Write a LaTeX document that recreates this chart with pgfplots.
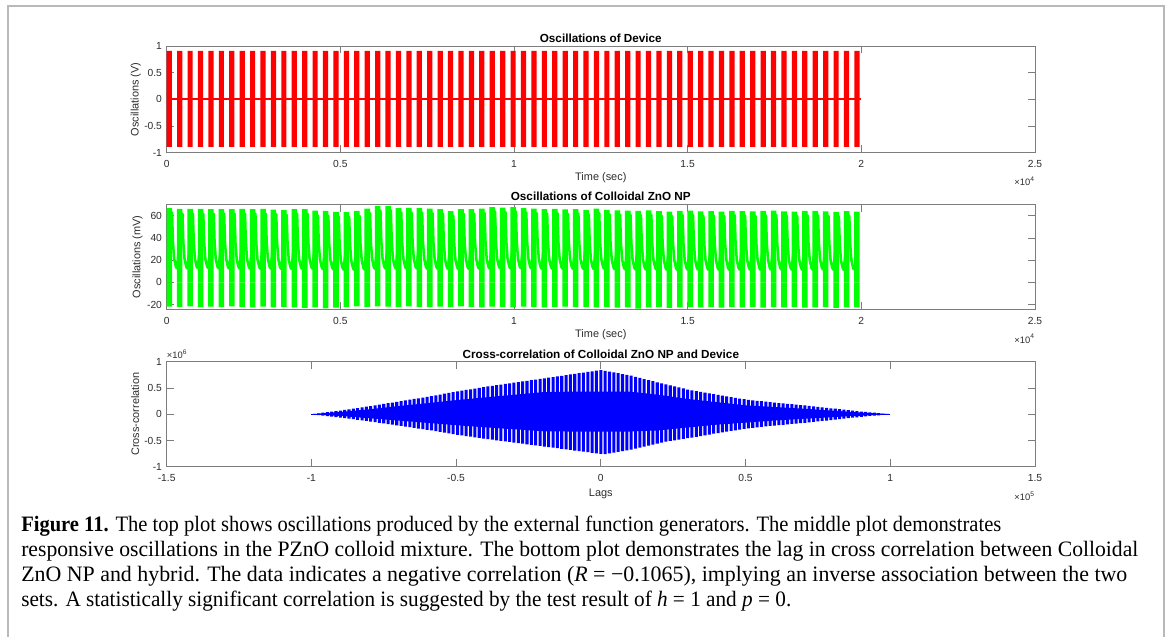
\documentclass[border=0pt]{standalone}
\usepackage{fontspec}
\setmainfont{Liberation Sans}
\newfontfamily\capfont{Liberation Serif}
\usepackage{graphicx}
\usepackage{pgfplots}
\usepackage{pgfplotstable}
\pgfplotsset{compat=1.18}
\definecolor{axgray}{RGB}{125,125,125}
\definecolor{txtgray}{RGB}{45,45,45}
\definecolor{framegray}{RGB}{185,185,185}

\pgfplotsset{matstyle/.style={
  scale only axis, width=651.2pt, anchor=south west,
  axis line style={axgray, line width=0.6pt},
  tick style={axgray, line width=0.6pt},
  tick align=inside, major tick length=5.5pt,
  tick label style={font=\fontsize{7.7}{9}\selectfont, text=txtgray},
  xticklabel style={anchor=base, yshift=-11.1pt},
  label style={font=\fontsize{8.2}{9.8}\selectfont, text=txtgray},
  every axis title shift=0pt,
  title style={font=\bfseries\fontsize{8.8}{10}\selectfont, at={(0.5,1)}, anchor=base, yshift=2.6pt, text=black},
  scaled x ticks=false, scaled y ticks=false,
}}

\pgfplotstableread[row sep=\\]{
t up lo\\
75 0.91 -0.89\\ 375 0.91 -0.89\\ 675 0.91 -0.89\\ 975 0.91 -0.89\\ 1275 0.91 -0.89\\ 1575 0.91 -0.89\\
1875 0.91 -0.89\\ 2175 0.91 -0.89\\ 2475 0.91 -0.89\\ 2775 0.91 -0.89\\ 3075 0.91 -0.89\\ 3375 0.91 -0.89\\
3675 0.91 -0.89\\ 3975 0.91 -0.89\\ 4275 0.91 -0.89\\ 4575 0.91 -0.89\\ 4875 0.91 -0.89\\ 5175 0.91 -0.89\\
5475 0.91 -0.89\\ 5775 0.91 -0.89\\ 6075 0.91 -0.89\\ 6375 0.91 -0.89\\ 6675 0.91 -0.89\\ 6975 0.91 -0.89\\
7275 0.91 -0.89\\ 7575 0.91 -0.89\\ 7875 0.91 -0.89\\ 8175 0.91 -0.89\\ 8475 0.91 -0.89\\ 8775 0.91 -0.89\\
9075 0.91 -0.89\\ 9375 0.91 -0.89\\ 9675 0.91 -0.89\\ 9975 0.91 -0.89\\ 10275 0.91 -0.89\\ 10575 0.91 -0.89\\
10875 0.91 -0.89\\ 11175 0.91 -0.89\\ 11475 0.91 -0.89\\ 11775 0.91 -0.89\\ 12075 0.91 -0.89\\ 12375 0.91 -0.89\\
12675 0.91 -0.89\\ 12975 0.91 -0.89\\ 13275 0.91 -0.89\\ 13575 0.91 -0.89\\ 13875 0.91 -0.89\\ 14175 0.91 -0.89\\
14475 0.91 -0.89\\ 14775 0.91 -0.89\\ 15075 0.91 -0.89\\ 15375 0.91 -0.89\\ 15675 0.91 -0.89\\ 15975 0.91 -0.89\\
16275 0.91 -0.89\\ 16575 0.91 -0.89\\ 16875 0.91 -0.89\\ 17175 0.91 -0.89\\ 17475 0.91 -0.89\\ 17775 0.91 -0.89\\
18075 0.91 -0.89\\ 18375 0.91 -0.89\\ 18675 0.91 -0.89\\ 18975 0.91 -0.89\\ 19275 0.91 -0.89\\ 19575 0.91 -0.89\\
19875 0.91 -0.89\\
}\device

\pgfplotstableread[row sep=\\]{
t top bot\\
75 66.9 -21.8\\ 375 66.3 -22.0\\ 675 66.3 -21.6\\ 975 66.3 -22.2\\ 1275 66.0 -21.9\\ 1575 66.0 -22.3\\
1875 66.0 -21.7\\ 2175 66.3 -22.1\\ 2475 66.0 -22.4\\ 2775 66.3 -21.8\\ 3075 65.7 -22.6\\ 3375 65.4 -22.0\\
3675 66.0 -22.5\\ 3975 66.0 -23.0\\ 4275 64.8 -22.4\\ 4575 64.5 -23.4\\ 4875 63.6 -22.8\\ 5175 63.3 -22.0\\
5475 64.5 -21.7\\ 5775 66.6 -22.0\\ 6075 69.1 -21.5\\ 6375 69.1 -21.8\\ 6675 66.9 -22.1\\ 6975 67.2 -21.6\\
7275 66.9 -22.0\\ 7575 66.6 -22.3\\ 7875 66.0 -21.9\\ 8175 64.2 -22.2\\ 8475 66.0 -21.7\\ 8775 66.0 -22.0\\
9075 66.6 -22.4\\ 9375 67.9 -21.8\\ 9675 67.5 -22.0\\ 9975 67.8 -22.5\\ 10275 67.0 -21.9\\ 10575 66.5 -22.1\\
10875 66.0 -22.6\\ 11175 66.3 -22.0\\ 11475 65.8 -21.8\\ 11775 66.0 -22.3\\ 12075 65.5 -22.0\\ 12375 66.6 -22.5\\
12675 65.4 -22.2\\ 12975 65.0 -22.8\\ 13275 64.8 -22.4\\ 13575 64.5 -23.6\\ 13875 65.0 -22.6\\ 14175 64.2 -22.2\\
14475 63.8 -22.9\\ 14775 64.5 -22.4\\ 15075 64.8 -22.0\\ 15375 64.0 -22.6\\ 15675 64.3 -22.3\\ 15975 63.9 -22.8\\
16275 64.6 -22.2\\ 16575 64.2 -22.5\\ 16875 64.0 -22.0\\ 17175 64.5 -22.7\\ 17475 64.8 -22.3\\ 17775 64.1 -22.6\\
18075 63.8 -22.1\\ 18375 64.4 -22.8\\ 18675 64.6 -22.4\\ 18975 64.0 -22.2\\ 19275 63.5 -23.0\\ 19575 64.2 -22.5\\
19875 63.8 -22.6\\
}\np

\pgfplotstableread[row sep=\\]{
lag up lo\\
-99000 0.007 -0.006\\ -97500 0.018 -0.016\\ -96000 0.028 -0.025\\ -94500 0.039 -0.035\\ -93000 0.049 -0.044\\
-91500 0.060 -0.054\\ -90000 0.070 -0.063\\ -88500 0.082 -0.074\\ -87000 0.094 -0.085\\ -85500 0.106 -0.095\\
-84000 0.118 -0.106\\ -82500 0.130 -0.117\\ -81000 0.142 -0.128\\ -79500 0.155 -0.140\\ -78000 0.168 -0.151\\
-76500 0.182 -0.164\\ -75000 0.195 -0.176\\ -73500 0.209 -0.188\\ -72000 0.222 -0.200\\ -70500 0.236 -0.212\\
-69000 0.249 -0.224\\ -67500 0.263 -0.237\\ -66000 0.276 -0.248\\ -64500 0.290 -0.261\\ -63000 0.303 -0.273\\
-61500 0.317 -0.285\\ -60000 0.330 -0.297\\ -58500 0.345 -0.310\\ -57000 0.360 -0.324\\ -55500 0.375 -0.338\\
-54000 0.390 -0.351\\ -52500 0.405 -0.365\\ -51000 0.420 -0.378\\ -49500 0.435 -0.392\\ -48000 0.448 -0.403\\
-46500 0.462 -0.416\\ -45000 0.475 -0.428\\ -43500 0.489 -0.440\\ -42000 0.502 -0.452\\ -40500 0.516 -0.464\\
-39000 0.528 -0.475\\ -37500 0.540 -0.486\\ -36000 0.552 -0.497\\ -34500 0.564 -0.508\\ -33000 0.576 -0.518\\
-31500 0.588 -0.529\\ -30000 0.600 -0.540\\ -28500 0.612 -0.551\\ -27000 0.624 -0.562\\ -25500 0.636 -0.572\\
-24000 0.648 -0.583\\ -22500 0.660 -0.594\\ -21000 0.672 -0.605\\ -19500 0.684 -0.616\\ -18000 0.696 -0.626\\
-16500 0.708 -0.637\\ -15000 0.720 -0.648\\ -13500 0.732 -0.659\\ -12000 0.744 -0.670\\ -10500 0.756 -0.680\\
-9000 0.768 -0.691\\ -7500 0.780 -0.702\\ -6000 0.792 -0.713\\ -4500 0.804 -0.724\\ -3000 0.816 -0.734\\
-1500 0.828 -0.745\\ 0 0.840 -0.756\\ 1500 0.825 -0.759\\ 3000 0.810 -0.745\\ 4500 0.795 -0.731\\
6000 0.780 -0.718\\ 7500 0.765 -0.704\\ 9000 0.750 -0.690\\ 10500 0.733 -0.674\\ 12000 0.712 -0.655\\
13500 0.691 -0.636\\ 15000 0.670 -0.616\\ 16500 0.649 -0.597\\ 18000 0.628 -0.578\\ 19500 0.607 -0.558\\
21000 0.587 -0.540\\ 22500 0.568 -0.523\\ 24000 0.548 -0.510\\ 25500 0.529 -0.497\\ 27000 0.509 -0.484\\
28500 0.490 -0.470\\ 30000 0.470 -0.456\\ 31500 0.455 -0.446\\ 33000 0.440 -0.431\\ 34500 0.425 -0.417\\
36000 0.410 -0.402\\ 37500 0.395 -0.387\\ 39000 0.380 -0.372\\ 40500 0.366 -0.359\\ 42000 0.352 -0.345\\
43500 0.339 -0.332\\ 45000 0.325 -0.319\\ 46500 0.312 -0.306\\ 48000 0.298 -0.292\\ 49500 0.285 -0.279\\
51000 0.274 -0.269\\ 52500 0.265 -0.260\\ 54000 0.256 -0.251\\ 55500 0.247 -0.242\\ 57000 0.238 -0.233\\
58500 0.229 -0.224\\ 60000 0.220 -0.216\\ 61500 0.213 -0.209\\ 63000 0.205 -0.201\\ 64500 0.198 -0.194\\
66000 0.190 -0.186\\ 67500 0.183 -0.179\\ 69000 0.175 -0.172\\ 70500 0.167 -0.164\\ 72000 0.158 -0.155\\
73500 0.149 -0.146\\ 75000 0.140 -0.137\\ 76500 0.131 -0.128\\ 78000 0.122 -0.120\\ 79500 0.113 -0.111\\
81000 0.104 -0.102\\ 82500 0.095 -0.093\\ 84000 0.086 -0.084\\ 85500 0.077 -0.075\\ 87000 0.068 -0.067\\
88500 0.059 -0.058\\ 90000 0.050 -0.049\\ 91500 0.043 -0.042\\ 93000 0.035 -0.034\\ 94500 0.028 -0.027\\
96000 0.020 -0.020\\ 97500 0.013 -0.013\\ 99000 0.005 -0.005\\
}\xc

\begin{document}
\begin{tikzpicture}
\useasboundingbox (0,0) rectangle (877.5pt,477.75pt);
\fill[white] (0,0) rectangle (877.5pt,477.75pt);

% ---------- top: device ----------
\begin{axis}[matstyle, name=top, at={(125pt,363.2pt)}, height=80pt,
  xmin=0, xmax=25000, ymin=-1, ymax=1,
  xtick={0,5000,10000,15000,20000,25000}, xticklabels={0,0.5,1,1.5,2,2.5},
  ytick={-1,-0.5,0,0.5,1}, yticklabels={-1,-0.5,0,0.5,1},
  title={Oscillations of Device},
  xlabel={Time (sec)}, ylabel={Oscillations (V)},
  xlabel style={at={(axis description cs:0.5,0)}, anchor=base, yshift=-21pt},
  ylabel style={at={(axis description cs:0,0.5)}, anchor=center, yshift=23.2pt}]
\addplot[ybar, bar width=150, bar shift=0, fill=red, draw=none] table[x=t,y=up]{\device};
\addplot[ybar, bar width=150, bar shift=0, fill=red, draw=none] table[x=t,y=lo]{\device};
\addplot[red, line width=1.4pt] coordinates {(0,0) (20000,0)};
\end{axis}
\node[anchor=base east, font=\fontsize{7}{8}\selectfont, text=txtgray, inner sep=0pt] at ([yshift=-24.3pt]top.south east) {\texttimes10\textsuperscript{4}};

% ---------- middle: colloidal ZnO ----------
\begin{axis}[matstyle, name=mid, at={(125pt,245.8pt)}, height=78.7pt,
  xmin=0, xmax=25000, ymin=-24.2, ymax=70.4,
  xtick={0,5000,10000,15000,20000,25000}, xticklabels={0,0.5,1,1.5,2,2.5},
  ytick={-20,0,20,40,60}, yticklabels={-20,0,20,40,60},
  title={Oscillations of Colloidal ZnO NP},
  xlabel={Time (sec)}, ylabel={Oscillations (mV)},
  xlabel style={at={(axis description cs:0.5,0)}, anchor=base, yshift=-21.4pt},
  ylabel style={at={(axis description cs:0,0.5)}, anchor=center, yshift=21.8pt}]
\addplot[green, line width=1.9pt, line join=round] coordinates {
(0,12.8)
(155,63) (180,37) (215,21.5) (265,14.2) (295,12.8)
(455,62) (480,36) (515,21) (565,14) (595,12.6)
(755,62) (780,36.5) (815,21.2) (865,14.1) (895,12.9)
(1055,62) (1080,36) (1115,21) (1165,14.3) (1195,13.0)
(1355,62) (1380,35.5) (1415,20.8) (1465,13.9) (1495,12.7)
(1655,62) (1680,36) (1715,21) (1765,14) (1795,12.5)
(1955,62) (1980,36) (2015,21.3) (2065,14.2) (2095,12.6)
(2255,62) (2280,36.2) (2315,21) (2365,14) (2395,12.4)
(2555,62) (2580,36) (2615,20.9) (2665,13.8) (2695,12.3)
(2855,62) (2880,36) (2915,21) (2965,13.9) (2995,12.5)
(3155,61.5) (3180,35.8) (3215,20.8) (3265,13.7) (3295,12.2)
(3455,61) (3480,35.5) (3515,20.6) (3565,13.6) (3595,12.1)
(3755,62) (3780,36) (3815,21) (3865,13.8) (3895,12.3)
(4055,62) (4080,36) (4115,21) (4165,13.9) (4195,12.4)
(4355,60.5) (4380,35) (4415,20.5) (4465,13.5) (4495,12.0)
(4655,60) (4680,35) (4715,20.3) (4765,13.3) (4795,11.8)
(4955,59.5) (4980,34.5) (5015,20) (5065,13) (5095,11.5)
(5255,59) (5280,34.2) (5315,19.8) (5365,12.8) (5395,11.3)
(5555,60) (5580,35) (5615,20.2) (5665,13.1) (5695,11.6)
(5855,62.5) (5880,36.5) (5915,21.2) (5965,13.8) (5995,12.2)
(6155,65) (6180,37.5) (6215,21.8) (6265,14.2) (6295,12.6)
(6455,65) (6480,37.5) (6515,21.8) (6565,14.3) (6595,12.7)
(6755,63) (6780,36.8) (6815,21.4) (6865,14.1) (6895,12.5)
(7055,63) (7080,37) (7115,21.5) (7165,14.2) (7195,12.6)
(7355,63) (7380,36.8) (7415,21.4) (7465,14) (7495,12.4)
(7655,62.5) (7680,36.5) (7715,21.2) (7765,14) (7795,12.5)
(7955,62) (7980,36.2) (8015,21) (8065,13.9) (8095,12.3)
(8255,60) (8280,35.2) (8315,20.5) (8365,13.5) (8395,12.0)
(8555,62) (8580,36) (8615,21) (8665,13.8) (8695,12.3)
(8855,62) (8880,36) (8915,21) (8965,13.9) (8995,12.4)
(9155,62.5) (9180,36.5) (9215,21.2) (9265,14.1) (9295,12.6)
(9455,64) (9480,37.2) (9515,21.6) (9565,14.3) (9595,12.8)
(9755,63.5) (9780,37) (9815,21.5) (9865,14.2) (9895,12.7)
(10055,64) (10080,37.2) (10115,21.6) (10165,14.3) (10195,12.8)
(10355,63) (10380,36.8) (10415,21.4) (10465,14.1) (10495,12.5)
(10655,62.5) (10680,36.5) (10715,21.2) (10765,14) (10795,12.4)
(10955,62) (10980,36.2) (11015,21) (11065,13.9) (11095,12.3)
(11255,62.3) (11280,36.3) (11315,21.1) (11365,13.9) (11395,12.3)
(11555,61.8) (11580,36) (11615,20.9) (11665,13.8) (11695,12.2)
(11855,62) (11880,36.2) (11915,21) (11965,13.8) (11995,12.2)
(12155,61.5) (12180,35.8) (12215,20.8) (12265,13.6) (12295,12.0)
(12455,62.5) (12480,36.4) (12515,21.1) (12565,13.9) (12595,12.3)
(12755,61.4) (12780,35.7) (12815,20.7) (12865,13.5) (12895,11.9)
(13055,61) (13080,35.5) (13115,20.6) (13165,13.4) (13195,11.8)
(13355,60.8) (13380,35.4) (13415,20.5) (13465,13.3) (13495,11.7)
(13655,60.5) (13680,35.2) (13715,20.4) (13765,13.2) (13795,11.6)
(13955,61) (13980,35.5) (14015,20.6) (14065,13.3) (14095,11.7)
(14255,60.2) (14280,35) (14315,20.3) (14365,13.1) (14395,11.5)
(14555,59.8) (14580,34.8) (14615,20.2) (14665,13) (14695,11.4)
(14855,60.5) (14880,35.2) (14915,20.4) (14965,13.2) (14995,11.6)
(15155,60.8) (15180,35.4) (15215,20.5) (15265,13.2) (15295,11.6)
(15455,60) (15480,35) (15515,20.3) (15565,13) (15595,11.4)
(15755,60.3) (15780,35.1) (15815,20.3) (15865,13.1) (15895,11.5)
(16055,59.9) (16080,34.9) (16115,20.2) (16165,13) (16195,11.4)
(16355,60.6) (16380,35.3) (16415,20.4) (16465,13.2) (16495,11.6)
(16655,60.2) (16680,35) (16715,20.3) (16765,13.1) (16795,11.5)
(16955,60) (16980,35) (17015,20.2) (17065,13) (17095,11.4)
(17255,60.5) (17280,35.2) (17315,20.4) (17365,13.2) (17395,11.6)
(17555,60.8) (17580,35.4) (17615,20.5) (17665,13.2) (17695,11.6)
(17855,60.1) (17880,35) (17915,20.3) (17965,13.1) (17995,11.5)
(18155,59.8) (18180,34.8) (18215,20.2) (18265,13) (18295,11.4)
(18455,60.4) (18480,35.2) (18515,20.4) (18565,13.1) (18595,11.5)
(18755,60.6) (18780,35.3) (18815,20.4) (18865,13.2) (18895,11.6)
(19055,60) (19080,35) (19115,20.3) (19165,13.1) (19195,11.5)
(19355,59.5) (19380,34.7) (19415,20.1) (19465,12.9) (19495,11.3)
(19655,60.2) (19680,35) (19715,20.3) (19765,13) (19795,11.4)
};
\addplot[ybar, bar width=160, bar shift=0, fill=green, draw=none] table[x=t,y=top]{\np};
\addplot[ybar, bar width=160, bar shift=0, fill=green, draw=none] table[x=t,y=bot]{\np};
\end{axis}
\node[anchor=base east, font=\fontsize{7}{8}\selectfont, text=txtgray, inner sep=0pt] at ([yshift=-25.3pt]mid.south east) {\texttimes10\textsuperscript{4}};

% ---------- bottom: cross-correlation ----------
\begin{axis}[matstyle, name=bot, at={(125pt,127.7pt)}, height=78.8pt,
  xmin=-150000, xmax=150000, ymin=-1, ymax=1,
  xtick={-150000,-100000,-50000,0,50000,100000,150000},
  xticklabels={-1.5,-1,-0.5,0,0.5,1,1.5},
  ytick={-1,-0.5,0,0.5,1}, yticklabels={-1,-0.5,0,0.5,1},
  title={Cross-correlation of Colloidal ZnO NP and Device},
  xlabel={Lags}, ylabel={Cross-correlation},
  xlabel style={at={(axis description cs:0.5,0)}, anchor=base, yshift=-22pt},
  ylabel style={at={(axis description cs:0,0.5)}, anchor=center, yshift=23.5pt}]
\addplot[blue, line width=0.8pt] coordinates {(-100000,0) (100000,0)};
\addplot[fill=blue, draw=none] coordinates {
(-100000,0) (-90000,0.043) (-80000,0.093) (-70000,0.155) (-60000,0.21) (-50000,0.267)
(-40000,0.32) (-30000,0.37) (-20000,0.42) (-10000,0.43) (0,0.43) (10000,0.43)
(20000,0.37) (30000,0.29) (40000,0.23) (50000,0.17) (60000,0.136) (70000,0.105)
(80000,0.068) (90000,0.031) (100000,0)
(90000,-0.028) (80000,-0.055) (70000,-0.088) (60000,-0.121) (50000,-0.16) (40000,-0.2)
(30000,-0.253) (20000,-0.308) (10000,-0.33) (0,-0.33) (-10000,-0.33) (-20000,-0.325)
(-30000,-0.286) (-40000,-0.25) (-50000,-0.209) (-60000,-0.165) (-70000,-0.121)
(-80000,-0.077) (-90000,-0.033)};
\addplot[ybar, bar width=1050, bar shift=0, fill=blue, draw=none] table[x=lag,y=up]{\xc};
\addplot[ybar, bar width=1050, bar shift=0, fill=blue, draw=none] table[x=lag,y=lo]{\xc};
\end{axis}
\node[anchor=base east, font=\fontsize{7}{8}\selectfont, text=txtgray, inner sep=0pt] at ([yshift=-25pt]bot.south east) {\texttimes10\textsuperscript{5}};
\node[anchor=base west, font=\fontsize{7}{8}\selectfont, text=txtgray, inner sep=0pt] at ([yshift=2.5pt]bot.north west) {\texttimes10\textsuperscript{6}};

% ---------- frame ----------
\draw[framegray, line width=1.1pt] (6pt,0) -- (6pt,473.25pt) -- (873pt,473.25pt) -- (873pt,0);

% ---------- caption ----------
\begin{scope}[every node/.style={anchor=base west, inner sep=0pt, font=\capfont\fontsize{16.5}{19}\selectfont}]
\node at (15.75pt,79.5pt) {\resizebox{735pt}{\height}{\textbf{Figure 11.} The top plot shows oscillations produced by the external function generators. The middle plot demonstrates}};
\node at (15.75pt,60.75pt) {\resizebox{837.75pt}{\height}{responsive oscillations in the PZnO colloid mixture. The bottom plot demonstrates the lag in cross correlation between Colloidal}};
\node at (15.75pt,42pt) {\resizebox{829.5pt}{\height}{ZnO NP and hybrid. The data indicates a negative correlation (\textit{R} = −0.1065), implying an inverse association between the two}};
\node at (15.75pt,23.25pt) {\resizebox{577.5pt}{\height}{sets. A statistically significant correlation is suggested by the test result of \textit{h} = 1 and \textit{p} = 0.}};
\end{scope}
\end{tikzpicture}
\end{document}
